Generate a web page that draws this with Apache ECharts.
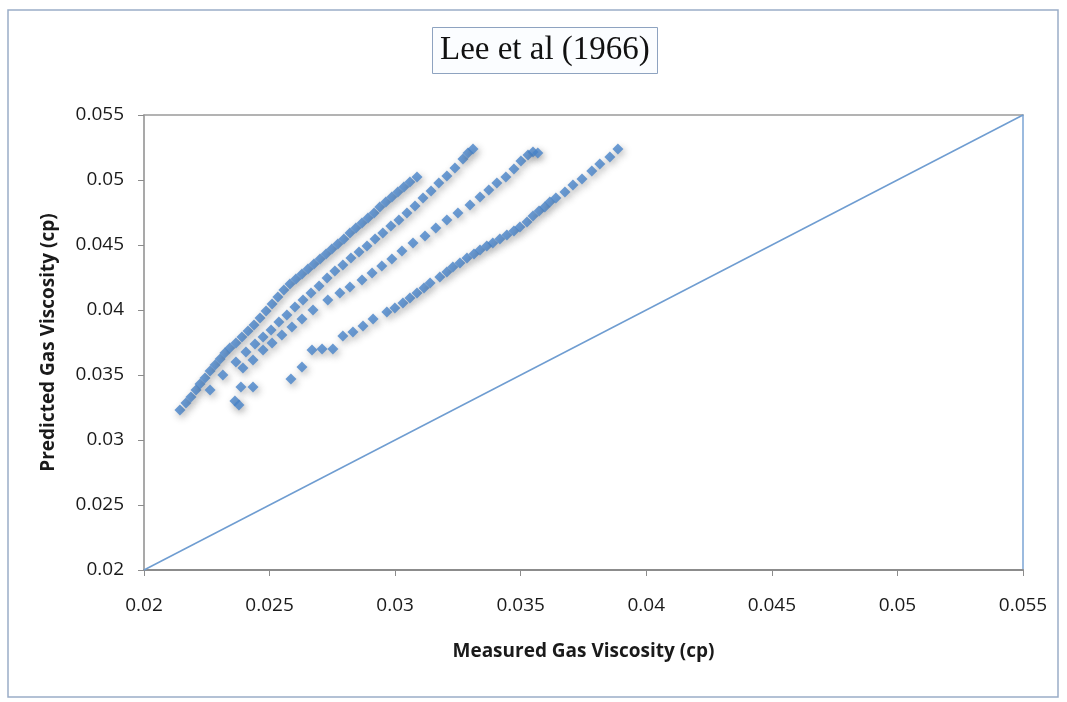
<!DOCTYPE html>
<html>
<head>
<meta charset="utf-8">
<title>Lee et al (1966)</title>
<script src="https://cdn.jsdelivr.net/npm/echarts@6/dist/echarts.min.js"></script>
<style>
  html, body { margin: 0; padding: 0; background: #fff; }
  #chart { width: 1067px; height: 702px; }
</style>
</head>
<body>
<div id="chart"></div>
<script>
// 读图估计的数据 (measured, predicted)
var ticks = [0.02, 0.025, 0.03, 0.035, 0.04, 0.045, 0.05, 0.055];
var tickLabels = ['0.02', '0.025', '0.03', '0.035', '0.04', '0.045', '0.05', '0.055'];

var measuredA = [0.02143, 0.02167, 0.02187, 0.02207, 0.02223, 0.02243, 0.02263, 0.02283, 0.02303, 0.02322,
  0.02342, 0.02366, 0.02390, 0.02414, 0.02438, 0.02462, 0.02486, 0.02510, 0.02533, 0.02557,
  0.02581, 0.02605, 0.02629, 0.02653, 0.02677, 0.02701, 0.02725, 0.02748, 0.02772, 0.02796,
  0.02820, 0.02844, 0.02868, 0.02892, 0.02916, 0.02939, 0.02963, 0.02987, 0.03011, 0.03035,
  0.03059, 0.03087];
var predictedA = [0.03231, 0.03285, 0.03331, 0.03385, 0.03431, 0.03477, 0.03531, 0.03577, 0.03623, 0.03669,
  0.03708, 0.03746, 0.03792, 0.03838, 0.03885, 0.03938, 0.03992, 0.04046, 0.04100, 0.04154,
  0.04200, 0.04238, 0.04277, 0.04315, 0.04354, 0.04392, 0.04431, 0.04469, 0.04508, 0.04546,
  0.04592, 0.04631, 0.04669, 0.04708, 0.04746, 0.04792, 0.04831, 0.04869, 0.04908, 0.04946,
  0.04985, 0.05023];

var measuredB = [0.02263, 0.02314, 0.02366, 0.02406, 0.02442, 0.02474, 0.02506, 0.02537, 0.02569, 0.02601,
  0.02633, 0.02665, 0.02697, 0.02729, 0.02760, 0.02792, 0.02824, 0.02856, 0.02888, 0.02920,
  0.02951, 0.02983, 0.03015, 0.03047, 0.03079, 0.03111, 0.03143, 0.03174, 0.03206, 0.03238,
  0.03270, 0.03290, 0.03310];
var predictedB = [0.03385, 0.03500, 0.03600, 0.03677, 0.03738, 0.03792, 0.03846, 0.03908, 0.03962, 0.04023,
  0.04077, 0.04131, 0.04185, 0.04246, 0.04300, 0.04346, 0.04400, 0.04446, 0.04492, 0.04546,
  0.04592, 0.04646, 0.04692, 0.04746, 0.04800, 0.04862, 0.04915, 0.04977, 0.05031, 0.05092,
  0.05162, 0.05208, 0.05238];

var measuredC = [0.02362, 0.02378, 0.02386, 0.02434, 0.02394, 0.02434, 0.02474, 0.02510, 0.02549, 0.02589,
  0.02629, 0.02673, 0.02732, 0.02780, 0.02820, 0.02868, 0.02908, 0.02947, 0.02987, 0.03027,
  0.03071, 0.03119, 0.03162, 0.03206, 0.03250, 0.03298, 0.03338, 0.03373, 0.03405, 0.03441,
  0.03473, 0.03501, 0.03529, 0.03549, 0.03568];
var predictedC = [0.03300, 0.03269, 0.03408, 0.03408, 0.03554, 0.03615, 0.03692, 0.03746, 0.03808, 0.03869,
  0.03931, 0.04000, 0.04077, 0.04131, 0.04177, 0.04231, 0.04285, 0.04338, 0.04392, 0.04454,
  0.04515, 0.04569, 0.04631, 0.04692, 0.04746, 0.04808, 0.04869, 0.04923, 0.04977, 0.05023,
  0.05085, 0.05146, 0.05192, 0.05215, 0.05208];

var measuredD = [0.02585, 0.02629, 0.02669, 0.02709, 0.02752, 0.02792, 0.02832, 0.02872, 0.02912, 0.02967,
  0.02999, 0.03031, 0.03059, 0.03087, 0.03115, 0.03139, 0.03178, 0.03206, 0.03230, 0.03258,
  0.03286, 0.03314, 0.03338, 0.03365, 0.03389, 0.03417, 0.03445, 0.03473, 0.03497, 0.03525,
  0.03549, 0.03573, 0.03596, 0.03616, 0.03640, 0.03676, 0.03708, 0.03744, 0.03783, 0.03815,
  0.03855, 0.03887];
var predictedD = [0.03469, 0.03562, 0.03692, 0.03700, 0.03700, 0.03800, 0.03831, 0.03877, 0.03931, 0.03985,
  0.04015, 0.04054, 0.04092, 0.04131, 0.04169, 0.04208, 0.04254, 0.04292, 0.04331, 0.04362,
  0.04400, 0.04431, 0.04462, 0.04492, 0.04515, 0.04546, 0.04577, 0.04608, 0.04638, 0.04677,
  0.04723, 0.04762, 0.04792, 0.04831, 0.04862, 0.04908, 0.04962, 0.05008, 0.05069, 0.05123,
  0.05177, 0.05238];

// 45 度线 (y = x)
var unitLine = [0.02, 0.055];

function pairs(xs, ys) {
  return xs.map(function (x, i) { return [x, ys[i]]; });
}

var points = []
  .concat(pairs(measuredA, predictedA))
  .concat(pairs(measuredB, predictedB))
  .concat(pairs(measuredC, predictedC))
  .concat(pairs(measuredD, predictedD));

function tickText(v) {
  for (var i = 0; i < ticks.length; i++) {
    if (Math.abs(ticks[i] - v) < 1e-9) return tickLabels[i];
  }
  return '';
}

var chart = echarts.init(document.getElementById('chart'));

var labelFont = { color: '#1a1a1a', fontSize: 19, fontFamily: 'Open Sans' };
var nameFont = { color: '#1a1a1a', fontSize: 19, fontWeight: 'bold', fontFamily: 'Open Sans' };

chart.setOption({
  backgroundColor: '#fff',
  animation: false,
  title: {
    text: 'Lee et al (1966)',
    left: 432,
    top: 27,
    padding: [7, 8],
    borderColor: '#8ea3c0',
    borderWidth: 1,
    backgroundColor: '#fbfdff',
    textStyle: { fontFamily: 'Liberation Serif', fontSize: 33, fontWeight: 'normal', color: '#111' }
  },
  graphic: [{
    type: 'rect',
    shape: { x: 8, y: 10, width: 1050, height: 687 },
    style: { fill: 'none', stroke: '#9aadc8', lineWidth: 1.5 },
    silent: true
  }],
  grid: { left: 144, right: 44, top: 115, bottom: 132 },
  xAxis: [{
    type: 'value',
    min: 0.02, max: 0.055, interval: 0.005,
    name: 'Measured Gas Viscosity (cp)',
    nameLocation: 'middle',
    nameGap: 72,
    nameTextStyle: nameFont,
    axisLine: { show: true, lineStyle: { color: '#8c8c8c', width: 2 } },
    axisTick: { show: true, inside: false, length: 6, lineStyle: { color: '#8c8c8c' } },
    axisLabel: Object.assign({ margin: 26, formatter: tickText }, labelFont),
    splitLine: { show: false }
  }, {
    type: 'value', position: 'top',
    min: 0.02, max: 0.055,
    axisLine: { show: true, onZero: false, lineStyle: { color: '#9a9a9a', width: 1.5 } },
    axisTick: { show: false }, axisLabel: { show: false }, splitLine: { show: false }
  }],
  yAxis: [{
    type: 'value',
    min: 0.02, max: 0.055, interval: 0.005,
    name: 'Predicted Gas Viscosity (cp)',
    nameLocation: 'middle',
    nameGap: 86,
    nameTextStyle: nameFont,
    axisLine: { show: true, lineStyle: { color: '#8c8c8c', width: 1.5 } },
    axisTick: { show: true, inside: false, length: 6, lineStyle: { color: '#8c8c8c' } },
    axisLabel: Object.assign({ margin: 20, formatter: tickText }, labelFont),
    splitLine: { show: false }
  }, {
    type: 'value', position: 'right',
    min: 0.02, max: 0.055,
    axisLine: { show: true, onZero: false, lineStyle: { color: '#7ba4d4', width: 1.5 } },
    axisTick: { show: false }, axisLabel: { show: false }, splitLine: { show: false }
  }],
  series: [{
    name: 'unit line',
    type: 'line',
    data: [[unitLine[0], unitLine[0]], [unitLine[1], unitLine[1]]],
    symbol: 'none',
    lineStyle: { color: '#6f9dd1', width: 1.5 },
    silent: true,
    z: 1
  }, {
    name: 'Lee et al (1966)',
    type: 'scatter',
    data: points,
    symbol: 'diamond',
    symbolSize: 11,
    itemStyle: {
      color: '#4783c9',
      shadowBlur: 7,
      shadowColor: 'rgba(50, 50, 50, 0.45)',
      shadowOffsetX: 2,
      shadowOffsetY: 3
    },
    z: 3
  }]
});
</script>
</body>
</html>
